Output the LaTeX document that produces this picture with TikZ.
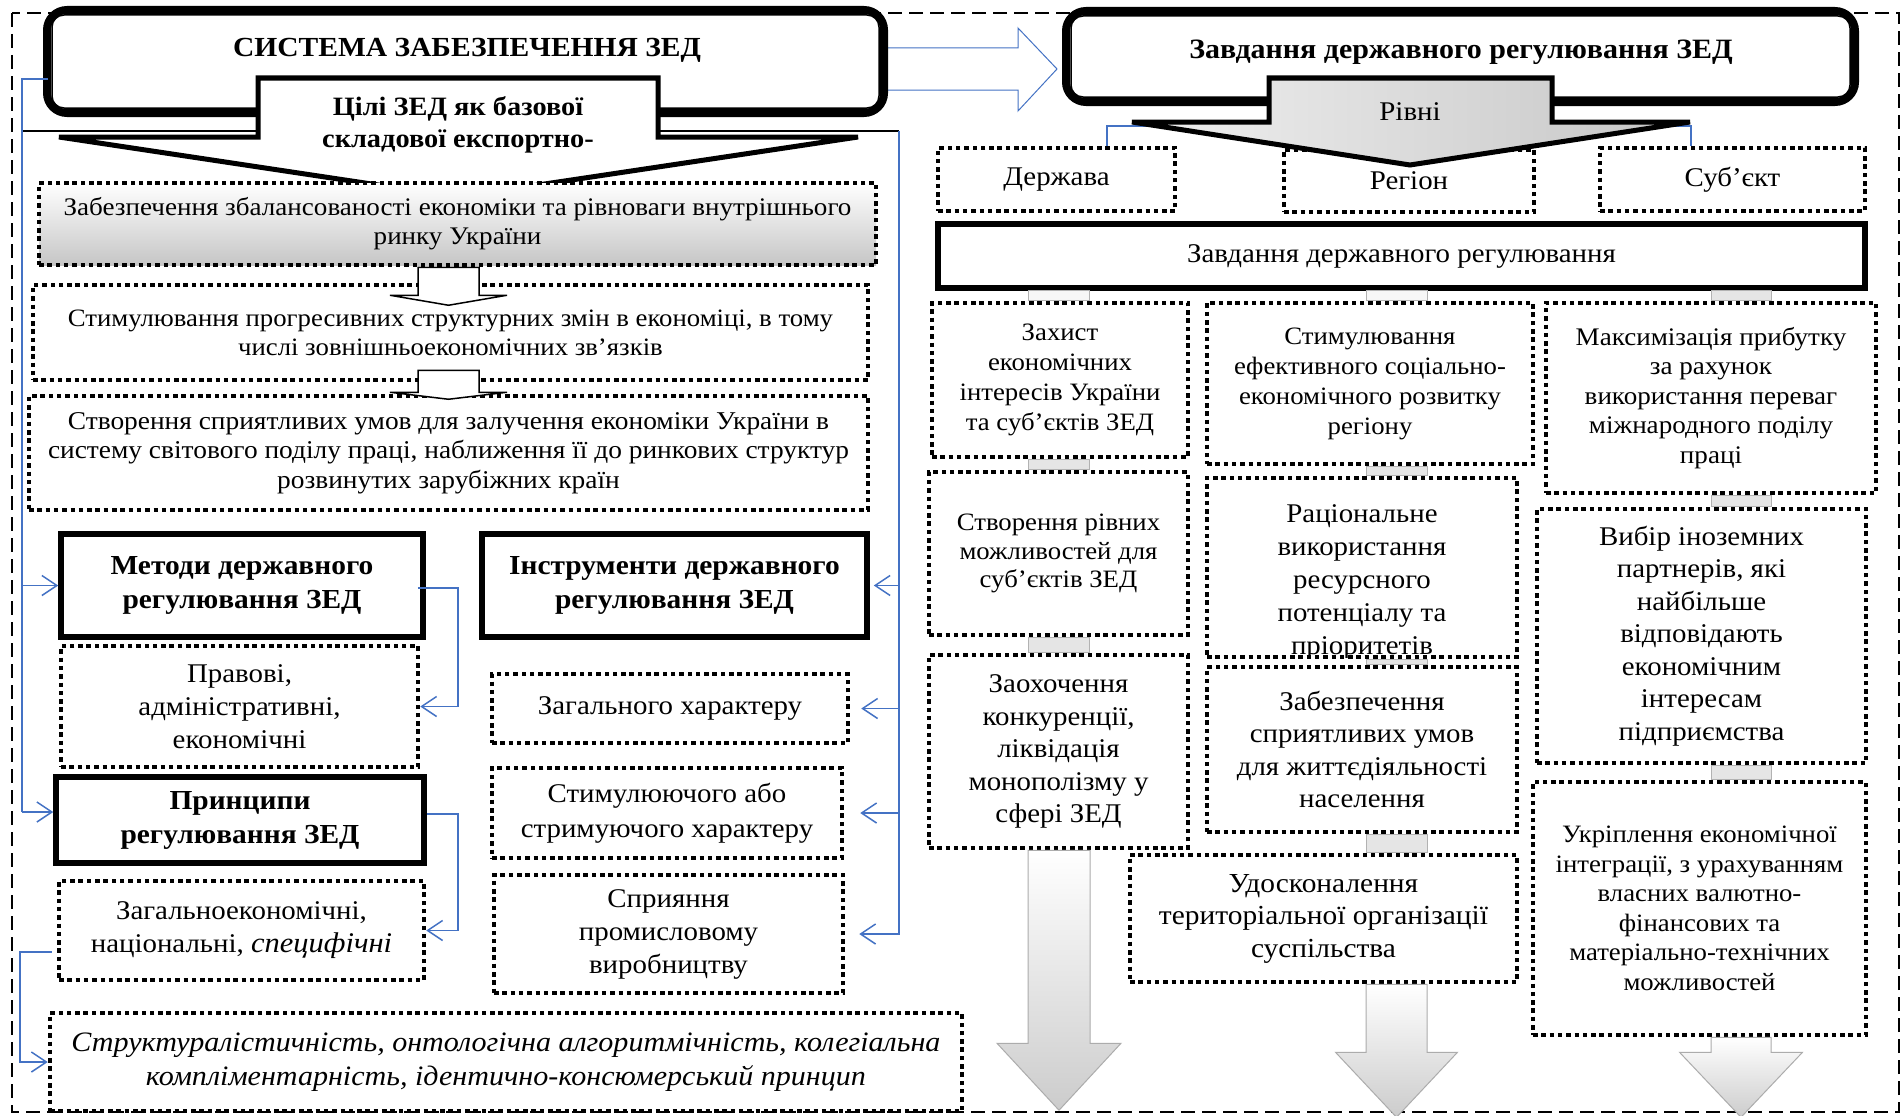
\documentclass[tikz,border=0pt]{standalone}
\usepackage{fontspec}
\setmainfont{Liberation Serif}[FakeStretch=1.07]
\usetikzlibrary{arrows.meta,calc}
\definecolor{myblue}{RGB}{68,114,196}
\newcommand\szA{\fontsize{25.3}{29}\selectfont}
\newcommand\szB{\fontsize{27}{33}\selectfont}
\newcommand\szC{\fontsize{25}{30}\selectfont}
\newcommand\szD{\fontsize{27}{32.5}\selectfont}
\newcommand\szE{\bfseries\fontsize{27.5}{34}\selectfont}
\tikzset{
 dotbox/.style={draw, line width=4.5pt, dash pattern=on 4.5pt off 3.8pt, fill=white, align=center, inner sep=0pt},
 solbox/.style={draw, line width=5.5pt, fill=white, align=center, inner sep=0pt},
 wh/.style 2 args={minimum width=#1, minimum height=#2},
 bline/.style={draw=myblue, line width=1.5pt},
 barr/.style={bline, -{Straight Barb[length=15pt,width=20pt,line width=1.5pt]}},
 framebox/.style={draw, line width=8pt, rounded corners=20pt, fill=white, inner sep=0pt},
 innerframe/.style={draw, line width=1.5pt, rounded corners=12pt},
 connL/.style={draw=gray!60, line width=0.8pt, fill=gray!6},
 connD/.style={draw=gray!60, line width=0.8pt, left color=gray!20, middle color=gray!55, right color=gray!20},
 bigarrow/.style={draw=gray!65, line width=1pt, top color=white, bottom color=gray!40},
 smallarrow/.style={draw, line width=1.5pt, fill=white},
}
\begin{document}
\begin{tikzpicture}[x=1pt,y=-1pt]
\useasboundingbox (0,0) rectangle (1903,1116);
\fill[white] (0,0) rectangle (1903,1116);
% outer dashed frame
\draw[line width=2pt, dash pattern=on 14pt off 7pt] (12,13) rectangle (1899,1112);

\coordinate (lftT) at (22,79);
\coordinate (rgtT) at (899,131);
\coordinate (ax) at (448.5,0);
\coordinate (cx1) at (1059,0);
\coordinate (cx2) at (1396.5,0);
\coordinate (cx3) at (1741,0);

% black line joining the two blue rails
\draw[line width=1.5pt] (lftT |- rgtT) -- (rgtT);

% blue block arrow between the two headers
\draw[draw=myblue, line width=1pt, fill=white, line join=miter]
  (880,48) -- (1018,48) -- (1018,28) -- (1057,69) -- (1018,111) -- (1018,90) -- (880,90) -- cycle;

% header frames
\node[framebox, wh={837}{103}] (sys) at (465.5,61.5) {};
\draw[innerframe] ($(sys.south west)+(9,-9)$) rectangle ($(sys.north east)+(-9,9)$);
\node[font=\bfseries\fontsize{27.6}{32}\selectfont] (systitle) at (467,50) {СИСТЕМА ЗАБЕЗПЕЧЕННЯ ЗЕД};

\node[framebox, wh={789}{91}] (task) at (1460.5,56.5) {};
\draw[innerframe] ($(task.south west)+(9,-9)$) rectangle ($(task.north east)+(-9,9)$);
\node[font=\bfseries\fontsize{28}{32}\selectfont] (tasktitle) at (1461,52) {Завдання державного регулювання ЗЕД};

% goal arrow
\draw[line width=5pt, fill=white, line join=miter]
  (258,78) -- (658,78) -- (658,137) -- (858,137) -- (458,197) -- (59,137) -- (258,137) -- cycle;
\node[font=\bfseries\fontsize{26.5}{32}\selectfont, align=center] (goal) at (458,125) {Цілі ЗЕД як базової\\складової експортно-};

% left column boxes
\node[dotbox, wh={837}{82}, top color=white, bottom color=gray!45, font=\szA] (b1) at (457.5,224)
  {Забезпечення збалансованості економіки та рівноваги внутрішнього\\ринку України};
\node[dotbox, wh={835}{95}, font=\fontsize{25}{29}\selectfont] (b2) at (450.5,332.5)
  {Стимулювання прогресивних структурних змін в економіці, в тому\\числі зовнішньоекономічних зв’язків};
\node[dotbox, wh={839}{114}, font=\fontsize{25.6}{29.5}\selectfont] (b3) at (448.5,453)
  {Створення сприятливих умов для залучення економіки України в\\систему світового поділу праці, наближення її до ринкових структур\\розвинутих зарубіжних країн};
\draw[smallarrow] (b1.south -| ax) ++(-30.5,0) -- ++(0,28) -- ++(-28,0) -- ++(58.5,10) -- ++(58.5,-10) -- ++(-28,0) -- ++(0,-28) -- cycle;
\draw[smallarrow] (b2.south -| ax) ++(-30.5,-12) -- ++(0,22) -- ++(-28,0) -- ++(58.5,7) -- ++(58.5,-7) -- ++(-28,0) -- ++(0,-22) -- cycle;

\node[solbox, wh={362}{103}, font=\szE] (metody) at (242,585.5) {Методи державного\\регулювання ЗЕД};
\node[solbox, wh={385}{103}, font=\szE] (instr) at (674.5,585.5) {Інструменти державного\\регулювання ЗЕД};
\node[dotbox, wh={357}{121}, font=\szB] (prav) at (239.5,706.5) {Правові,\\адміністративні,\\економічні};
\node[dotbox, wh={356}{69}, font=\szB] (zag) at (670,708.5) {Загального характеру};
\node[dotbox, wh={350}{90}, font=\fontsize{27}{35}\selectfont] (stimul) at (667,813) {Стимулюючого або\\стримуючого характеру};
\node[solbox, wh={368}{86}, font=\szE] (pryn) at (240,820) {Принципи\\регулювання ЗЕД};
\node[dotbox, wh={365}{99}, font=\szB] (zagek) at (241.5,930.5) {Загальноекономічні,\\національні, {\fontsize{28.5}{33}\selectfont\itshape специфічні}};
\node[dotbox, wh={349}{118}, font=\szB] (spr) at (668.5,934) {Сприяння\\промисловому\\виробництву};
\node[dotbox, wh={912}{98}, font=\itshape\fontsize{28.1}{34}\selectfont] (strukt) at (506,1062)
  {Структуралістичність, онтологічна алгоритмічність, колегіальна\\компліментарність, ідентично-консюмерський принцип};

% blue connectors, left part
\draw[bline] ($(sys.west)+(5,17.5)$) -- (lftT) -- ($(pryn.west -| lftT)+(0,-8)$);
\draw[barr] (lftT |- metody.west) -- (metody.west);
\draw[barr] ($(pryn.west -| lftT)+(0,-8)$) -- ($(pryn.west)+(0,-8)$);
\draw[barr] ($(metody.east)+(-8,2.5)$) -- ++(40,0) |- (prav.east);
\draw[barr] ($(pryn.east)+(0,-6)$) -- ++(31,0) |- (zagek.east);
\draw[barr] ($(zagek.west)+(-5,21.5)$) -- ++(-32,0) |- (strukt.west);
% blue connectors, right rail
\draw[barr, shorten >=14pt] (rgtT) -- (rgtT |- spr.east) -- (spr.east);
\draw[barr, shorten >=4pt] (rgtT |- instr.east) -- (instr.east);
\draw[barr, shorten >=11pt] (rgtT |- zag.east) -- (zag.east);
\draw[barr, shorten >=16pt] (rgtT |- stimul.east) -- (stimul.east);

% levels
\node[dotbox, wh={237}{63}, font=\szB] (derzh) at (1056.5,179.5) {Держава};
\node[dotbox, wh={250}{62}, font=\szB] (region) at (1409,181) {Регіон};
\node[dotbox, wh={265}{63}, font=\szB] (subj) at (1732.5,179.5) {Суб’єкт};
\draw[bline] ($(derzh.north)+(50.5,0)$) -- ++(0,-20) -| ($(subj.north)+(-41.5,0)$);
\draw[line width=5pt, left color=gray!12, right color=gray!45, line join=miter]
  (1269,78) -- (1552,78) -- (1552,122) -- (1690,122) -- (1410,165) -- (1132,122) -- (1269,122) -- cycle;
\node[font=\szB] (rivni) at (1410,112) {Рівні};

\node[solbox, wh={927}{64}, font=\szB] (zavd) at (1401.5,256) {Завдання державного регулювання};

% task columns
\node[dotbox, wh={256}{154}, font=\szC] (zah) at (1060,380) {Захист\\економічних\\інтересів України\\та суб’єктів ЗЕД};
\node[dotbox, wh={259}{163}, font=\fontsize{25}{28.5}\selectfont] (stv) at (1058.5,553.5) {Створення рівних\\можливостей для\\суб’єктів ЗЕД};
\node[dotbox, wh={259}{193}, font=\szD] (zaoh) at (1058.5,751.5) {Заохочення\\конкуренції,\\ліквідація\\монополізму у\\сфері ЗЕД};

\node[dotbox, wh={326}{161}, font=\szC] (stim2) at (1370,383.5) {Стимулювання\\ефективного соціально-\\економічного розвитку\\регіону};
\node[dotbox, wh={310}{179}, path picture={\node[font=\fontsize{27}{33}\selectfont, align=center] at ($(path picture bounding box.center)+(0,15)$) {Раціональне\\використання\\ресурсного\\потенціалу та\\пріоритетів};}] (rac) at (1362,567.5) {};
\node[dotbox, wh={310}{165}, font=\szD] (zabezp) at (1362,749.5) {Забезпечення\\сприятливих умов\\для життєдіяльності\\населення};
\node[dotbox, wh={387}{127}, font=\fontsize{27.5}{32.5}\selectfont] (udosk) at (1323.5,918.5) {Удосконалення\\територіальної організації\\суспільства};

\node[dotbox, wh={330}{190}, font=\fontsize{25.3}{29.5}\selectfont] (maks) at (1711,398) {Максимізація прибутку\\за рахунок\\використання переваг\\міжнародного поділу\\праці};
\node[dotbox, wh={329}{254}, font=\szD] (vybir) at (1701.5,636) {Вибір іноземних\\партнерів, які\\найбільше\\відповідають\\економічним\\інтересам\\підприємства};
\node[dotbox, wh={333}{253}, font=\fontsize{25}{29.5}\selectfont] (ukr) at (1699.5,908.5) {Укріплення економічної\\інтеграції, з урахуванням\\власних валютно-\\фінансових та\\матеріально-технічних\\можливостей};

% small connectors between boxes
\draw[connL] ($(zavd.south -| cx1)+(-30.5,0)$) rectangle ($(zah.north -| cx1)+(30.5,0)$);
\draw[connL] ($(zavd.south -| cx2)+(-30.5,0)$) rectangle ($(stim2.north -| cx2)+(30.5,0)$);
\draw[connD] ($(zavd.south -| cx3)+(-30,0)$) rectangle ($(maks.north -| cx3)+(30,0)$);
\draw[connD] ($(zah.south -| cx1)+(-30.5,0)$) rectangle ($(stv.north -| cx1)+(30.5,0)$);
\draw[connD] ($(stim2.south -| cx2)+(-30.5,0)$) rectangle ($(rac.north -| cx2)+(30.5,0)$);
\draw[connD] ($(maks.south -| cx3)+(-30,0)$) rectangle ($(vybir.north -| cx3)+(30,0)$);
\draw[connD] ($(stv.south -| cx1)+(-30.5,0)$) rectangle ($(zaoh.north -| cx1)+(30.5,0)$);
\draw[connD] ($(rac.south -| cx2)+(-30.5,0)$) rectangle ($(zabezp.north -| cx2)+(30.5,0)$);
\draw[connD] ($(vybir.south -| cx3)+(-30,0)$) rectangle ($(ukr.north -| cx3)+(30,0)$);
\draw[connD] ($(zabezp.south -| cx2)+(-30.5,0)$) rectangle ($(udosk.north -| cx2)+(30.5,0)$);

% big outgoing arrows
\draw[bigarrow] (zaoh.south -| cx1) ++(-31,0) -- ++(0,193) -- ++(-31,0) -- ++(62,67) -- ++(62,-67) -- ++(-31,0) -- ++(0,-193) -- cycle;
\draw[bigarrow] (udosk.south -| cx2) ++(-30.5,0) -- ++(0,68) -- ++(-30.5,0) -- ++(61,65) -- ++(61,-65) -- ++(-30.5,0) -- ++(0,-68) -- cycle;
\draw[bigarrow] (ukr.south -| cx3) ++(-30,0) -- ++(0,15) -- ++(-31.5,0) -- ++(61.5,65) -- ++(61.5,-65) -- ++(-31.5,0) -- ++(0,-15) -- cycle;
\end{tikzpicture}
\end{document}
